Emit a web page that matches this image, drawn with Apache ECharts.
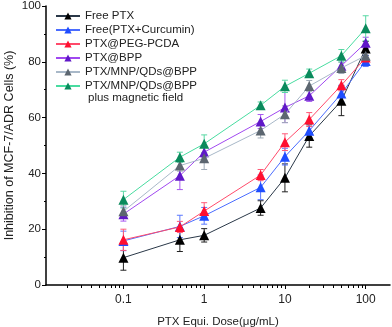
<!DOCTYPE html>
<html>
  <head>
    <meta charset="utf-8" />
    <title>MCF-7/ADR inhibition</title>
    <script src="https://cdnjs.cloudflare.com/ajax/libs/echarts/6.0.0/echarts.min.js"></script>
  </head>
  <body>
    <style>
      html, body { margin: 0; padding: 0; background: #fff; }
      #main { width: 392px; height: 327px; }
    </style>
    <div id="main"></div>
    <script type="text/javascript">
      var doses = [0.1, 0.5, 1, 5, 10, 20, 50, 100];
      var xLabels = [0.1, 1, 10, 100];
      var xMinor = [0.02, 0.03, 0.04, 0.05, 0.06, 0.07, 0.08, 0.09,
                    0.2, 0.3, 0.4, 0.5, 0.6, 0.7, 0.8, 0.9,
                    2, 3, 4, 5, 6, 7, 8, 9,
                    20, 30, 40, 50, 60, 70, 80, 90];

      var names = ['Free PTX', 'Free(PTX+Curcumin)', 'PTX@PEG-PCDA', 'PTX@BPP',
                   'PTX/MNP/QDs@BPP', 'PTX/MNP/QDs@BPP '];
      var freePtx = [9.8, 16.2, 17.8, 27.6, 38.4, 53.4, 66.0, 84.8];
      var freePtxErr = [4.5, 4.2, 2.4, 2.6, 5.0, 4.0, 5.3, 2.5];
      var freeCur = [15.8, 21.0, 24.8, 35.0, 46.0, 55.3, 68.6, 80.3];
      var freeCurErr = [3.5, 4.0, 3.0, 4.4, 3.0, 2.5, 3.0, 2.0];
      var pegPcda = [16.2, 20.8, 26.5, 39.4, 51.2, 59.3, 71.6, 81.5];
      var pegPcdaErr = [3.8, 2.0, 3.0, 2.0, 3.0, 2.5, 2.0, 2.5];
      var bpp = [25.4, 39.2, 47.6, 58.6, 63.6, 67.8, 78.6, 86.8];
      var bppErr = [2.5, 5.0, 2.0, 2.5, 5.4, 2.0, 2.5, 2.0];
      var mnp = [26.4, 42.8, 45.4, 55.4, 61.2, 71.3, 77.8, 82.2];
      var mnpErr = [2.0, 2.0, 4.0, 2.7, 3.0, 2.0, 2.0, 2.0];
      var mnpField = [30.6, 45.8, 50.6, 64.4, 71.2, 75.9, 82.2, 92.0];
      var mnpFieldErr = [3.0, 1.8, 3.2, 1.2, 2.2, 1.5, 2.2, 4.5];

      var values = [freePtx, freeCur, pegPcda, bpp, mnp, mnpField];
      var errors = [freePtxErr, freeCurErr, pegPcdaErr, bppErr, mnpErr, mnpFieldErr];
      var markerColors = ['#000000', '#1f4dff', '#ff1030', '#6018c8', '#5c6670', '#0a8a5c'];
      var lineColors = ['#2a3848', '#4a6cff', '#ff4a6a', '#a048f0', '#a8b8c8', '#48dca0'];
      var errColors = ['#202020', '#5a78ff', '#ff5a78', '#a858f0', '#a0acb8', '#58d8a4'];

      var chart = echarts.init(document.getElementById('main'));
      var font = 'Liberation Sans, Arial, sans-serif';

      function errorBar(params, api) {
        var x = api.value(0);
        var lo = api.coord([x, api.value(1)]);
        var hi = api.coord([x, api.value(2)]);
        var w = 3;
        var style = { stroke: api.visual('color'), lineWidth: 1 };
        return {
          type: 'group',
          children: [
            { type: 'line', shape: { x1: lo[0], y1: lo[1], x2: hi[0], y2: hi[1] }, style: style },
            { type: 'line', shape: { x1: lo[0] - w, y1: lo[1], x2: lo[0] + w, y2: lo[1] }, style: style },
            { type: 'line', shape: { x1: hi[0] - w, y1: hi[1], x2: hi[0] + w, y2: hi[1] }, style: style }
          ]
        };
      }

      var series = [];
      values.forEach(function (vals, i) {
        series.push({
          type: 'custom',
          renderItem: errorBar,
          itemStyle: { color: errColors[i] },
          data: doses.map(function (d, j) { return [d, vals[j] - errors[i][j], vals[j] + errors[i][j]]; }),
          z: 1,
          silent: true
        });
      });
      values.forEach(function (vals, i) {
        series.push({
          name: names[i],
          type: 'line',
          symbol: 'triangle',
          symbolSize: 10,
          itemStyle: { color: markerColors[i] },
          lineStyle: { color: lineColors[i], width: 1 },
          data: doses.map(function (d, j) { return [d, vals[j]]; }),
          z: 3 + i
        });
      });

      var option = {
        animation: false,
        textStyle: { fontFamily: font },
        grid: { left: 46, right: 2, top: 6, bottom: 42, outerBoundsMode: 'none' },
        legend: {
          data: names,
          orient: 'vertical',
          left: 50,
          top: 5,
          itemWidth: 24,
          itemHeight: 9,
          itemGap: 2,
          textStyle: { fontSize: 11.5, color: '#222', fontFamily: font, lineHeight: 11 }
        },
        graphic: [{
          type: 'text',
          left: 88,
          top: 92,
          style: { text: 'plus magnetic field', fontSize: 11.5, fill: '#222', fontFamily: font }
        }],
        xAxis: [{
          type: 'log',
          min: 0.011,
          max: 200,
          name: 'PTX Equi. Dose(μg/mL)',
          nameLocation: 'middle',
          nameGap: 31,
          nameTextStyle: { fontSize: 11.5, color: '#222' },
          axisLine: { lineStyle: { color: '#000', width: 1.5 } },
          axisTick: { customValues: xLabels, length: 4, lineStyle: { color: '#000' } },
          axisLabel: { customValues: xLabels, fontSize: 12, color: '#222', margin: 9 },
          splitLine: { show: false }
        }, {
          type: 'log',
          min: 0.011,
          max: 200,
          position: 'bottom',
          axisLine: { show: false },
          axisTick: { customValues: xMinor, length: 3, lineStyle: { color: '#000' } },
          axisLabel: { show: false },
          splitLine: { show: false }
        }],
        yAxis: {
          type: 'value',
          min: 0,
          max: 100,
          interval: 20,
          name: 'Inhibition of MCF-7/ADR Cells (%)',
          nameLocation: 'middle',
          nameGap: 30,
          nameMoveOverlap: false,
          nameTextStyle: { fontSize: 12.5, color: '#222' },
          axisLine: { show: true, lineStyle: { color: '#000', width: 1.5 } },
          axisTick: { show: true, length: 4, lineStyle: { color: '#000' } },
          minorTick: { show: true, splitNumber: 2, length: 2, lineStyle: { color: '#000' } },
          axisLabel: { fontSize: 11.5, color: '#222', margin: 5 },
          splitLine: { show: false }
        },
        series: series
      };
      chart.setOption(option);
    </script>
  </body>
</html>
